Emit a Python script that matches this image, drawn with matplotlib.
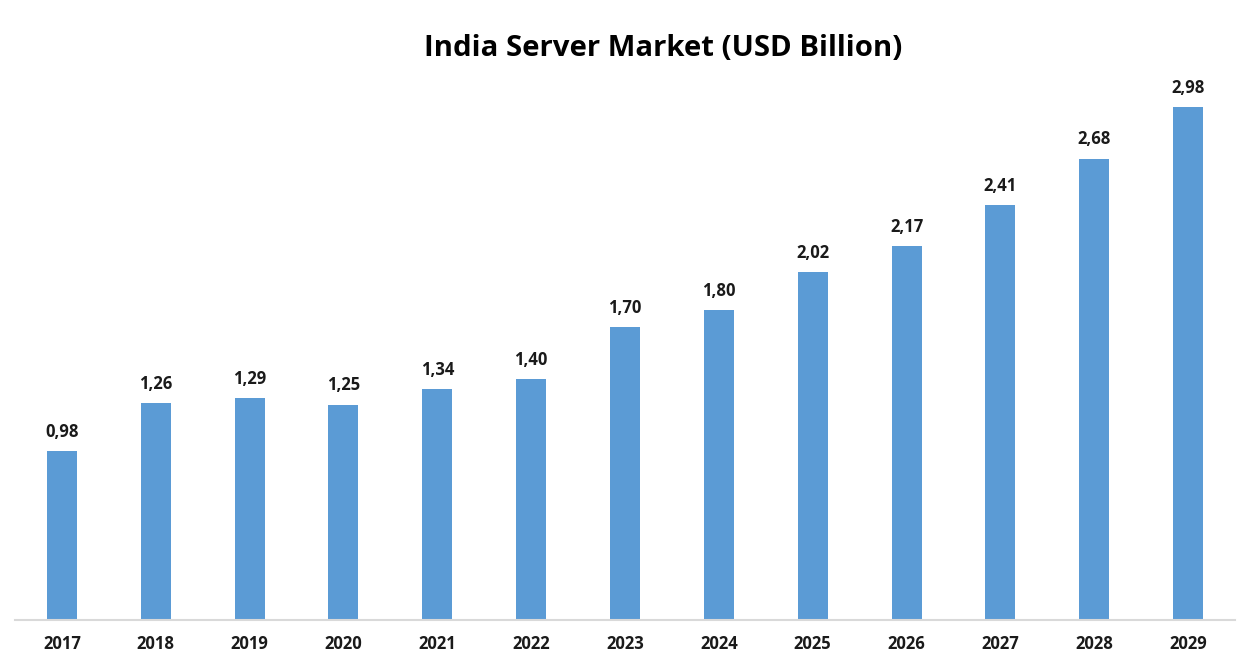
import matplotlib.pyplot as plt

years = ['2017', '2018', '2019', '2020', '2021', '2022', '2023',
         '2024', '2025', '2026', '2027', '2028', '2029']
values = [0.98, 1.26, 1.29, 1.25, 1.34, 1.40, 1.70,
          1.80, 2.02, 2.17, 2.41, 2.68, 2.98]
labels = ['0,98', '1,26', '1,29', '1,25', '1,34', '1,40', '1,70',
          '1,80', '2,02', '2,17', '2,41', '2,68', '2,98']

plt.rcParams['font.family'] = ['Open Sans', 'DejaVu Sans']

fig = plt.figure(figsize=(12.49, 6.6), dpi=100)
ax = fig.add_axes([15/1249, 40/660, 1220/1249, 520/660])

x = range(len(years))
ax.bar(x, values, width=0.32, color='#5B9BD5')
for i, v in enumerate(values):
    ax.text(i, v + 0.06, labels[i], ha='center', va='bottom',
            fontsize=12, fontweight='bold', color='#1a1a1a')

ax.set_xlim(-0.5, len(years) - 0.5)
ax.set_ylim(0, 3.02)
ax.set_xticks(list(x))
ax.set_xticklabels(years, fontsize=12, fontweight='bold', color='#1a1a1a')
ax.tick_params(axis='x', length=0, pad=11)
ax.set_yticks([])
for s in ['top', 'right', 'left']:
    ax.spines[s].set_visible(False)
ax.spines['bottom'].set_color('#D9D9D9')
ax.spines['bottom'].set_linewidth(1.5)

fig.text(663/1249, 1 - 48/660, 'India Server Market (USD Billion)',
         ha='center', va='center', fontsize=21.2, fontweight='bold', color='#000000')

fig.savefig('out.png', dpi=100)
